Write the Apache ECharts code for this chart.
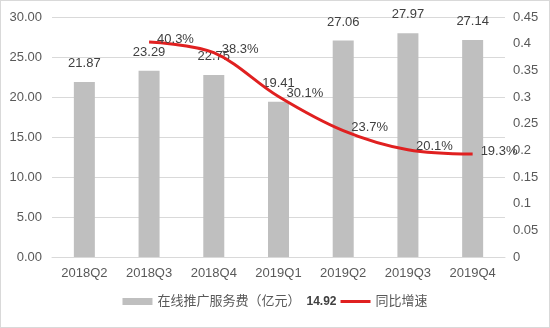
<!DOCTYPE html>
<html>
<head>
<meta charset="utf-8">
<script src="https://cdn.jsdelivr.net/npm/echarts@6/dist/echarts.min.js"></script>
<style>
  html, body { margin: 0; padding: 0; background: #fff; }
  #chart { width: 548px; height: 326px; border: 1px solid #d9d9d9; }
</style>
</head>
<body>
<div id="chart"></div>
<script>
// Quarterly online promotion service fees and year-on-year growth
const categories = ['2018Q2', '2018Q3', '2018Q4', '2019Q1', '2019Q2', '2019Q3', '2019Q4'];
const feeValues = [21.87, 23.29, 22.75, 19.41, 27.06, 27.97, 27.14];
const growthValues = [null, 0.403, 0.383, 0.301, 0.237, 0.201, 0.193];
const leftTicks = { min: 0, max: 30, interval: 5 };
const rightTicks = { min: 0, max: 0.45, interval: 0.05 };
const feeName = '在线推广服务费（亿元）';
const growthName = '同比增速';
const legendNote = '14.92';

const font = '"Liberation Sans", "Noto Sans CJK SC", sans-serif';
const textColor = '#595959';
const red = '#e02020';

const chart = echarts.init(document.getElementById('chart'));
chart.setOption({
  animation: false,
  textStyle: { fontFamily: font },
  grid: { left: 51, right: 44, top: 16, bottom: 70 },
  legend: {
    bottom: 14,
    left: 'center',
    itemGap: 4,
    itemWidth: 30,
    itemHeight: 7,
    textStyle: {
      color: textColor, fontSize: 13, fontFamily: font,
      rich: { note: { fontSize: 12, fontWeight: 'bold', color: '#404040', padding: [0, 0, 0, 6] } }
    },
    formatter: name => name === feeName ? name + '{note|' + legendNote + '}' : name,
    data: [
      { name: feeName, icon: 'rect' },
      { name: growthName, icon: 'path://M0,0H30V3H0Z' }
    ]
  },
  xAxis: {
    type: 'category',
    data: categories,
    axisLine: { lineStyle: { color: '#d9d9d9' } },
    axisTick: { show: false },
    axisLabel: { color: textColor, fontSize: 13, margin: 10 }
  },
  yAxis: [
    {
      type: 'value',
      min: leftTicks.min, max: leftTicks.max, interval: leftTicks.interval,
      axisLine: { show: false },
      axisTick: { show: false },
      axisLabel: { color: textColor, fontSize: 13, margin: 10, formatter: v => v.toFixed(2) },
      splitLine: { lineStyle: { color: '#d9d9d9', width: 1 } }
    },
    {
      type: 'value',
      min: rightTicks.min, max: rightTicks.max, interval: rightTicks.interval,
      axisLine: { show: false },
      axisTick: { show: false },
      axisLabel: { color: textColor, fontSize: 13, margin: 8, formatter: v => String(+v.toFixed(2)) },
      splitLine: { show: false }
    }
  ],
  series: [
    {
      name: feeName,
      type: 'bar',
      data: feeValues,
      barWidth: 21,
      itemStyle: { color: '#bfbfbf' },
      label: {
        show: true, position: 'top', distance: 12,
        color: '#404040', fontSize: 13,
        formatter: p => p.value.toFixed(2)
      }
    },
    {
      name: growthName,
      type: 'line',
      yAxisIndex: 1,
      data: growthValues,
      smooth: 0.35,
      symbol: 'circle',
      symbolSize: 0,
      showAllSymbol: true,
      connectNulls: false,
      lineStyle: { color: red, width: 3 },
      itemStyle: { color: red },
      label: {
        show: true, position: 'right', distance: 8, offset: [0, -3],
        color: '#404040', fontSize: 13,
        formatter: p => (p.value * 100).toFixed(1) + '%'
      }
    }
  ]
});
</script>
</body>
</html>
